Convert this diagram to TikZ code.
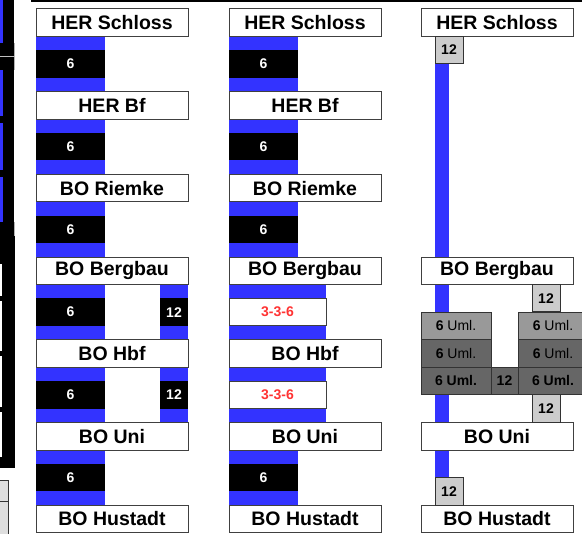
\documentclass[tikz,border=0pt]{standalone}
\usepackage{fontspec}
\setmainfont{Liberation Sans}
\usetikzlibrary{backgrounds}
\definecolor{lineblue}{HTML}{3333FF}
\definecolor{redtxt}{HTML}{FF3333}
\tikzset{
  box/.style={anchor=north west, inner sep=0pt, outer sep=0pt, minimum height=27.5bp},
  station/.style={box, draw=black!75, line width=1bp, fill=white, minimum width=152bp,
    font=\bfseries\fontsize{19.5bp}{22bp}\selectfont},
  sixbox/.style={box, fill=black, text=white, minimum width=69bp,
    font=\bfseries\fontsize{14bp}{16bp}\selectfont},
  twelvebox/.style={sixbox, minimum width=28bp},
  mixbox/.style={box, draw=black!75, line width=1bp, fill=white, text=redtxt, minimum width=97bp,
    font=\bfseries\fontsize{14bp}{16bp}\selectfont},
  lightbox/.style={box, draw=black!80, line width=1bp, fill=black!20, minimum width=28bp,
    font=\bfseries\fontsize{14bp}{16bp}\selectfont},
  umlbox/.style={box, draw=black!80, line width=1bp, minimum width=70bp,
    font=\fontsize{14bp}{16bp}\selectfont}
}
\begin{document}
\begin{tikzpicture}[x=1bp,y=-1bp]
  \useasboundingbox (0,0) rectangle (582,534);
  \clip (0,0) rectangle (582,534);

  %%%%% left edge (cut off) %%%%%
  \fill (3,0) rectangle (14,222);
  \fill[lineblue] (0,0) rectangle (3,43);
  \fill (0,43) rectangle (14,70);
  \fill[lineblue] (0,70) rectangle (3,116);
  \fill (0,116) rectangle (14,123);
  \fill[lineblue] (0,123) rectangle (3,170);
  \fill (0,170) rectangle (14,177);
  \fill[lineblue] (0,177) rectangle (3,222);
  \fill (0,222) rectangle (14,242);
  \fill[black!30] (14,43) rectangle (15,70);
  \fill[black!30] (14,222) rectangle (15,236);
  \draw[black!25, line width=1bp] (0,57) -- (15,57);
  \draw[black!25, line width=1bp] (0,236) -- (15,236);
  \fill (0,236) rectangle (15,242);
  \fill (2,242) rectangle (15,468);
  \fill (0,242) rectangle (2,264);
  \fill (0,296) rectangle (2,301);
  \fill (0,351) rectangle (2,356);
  \fill (0,407) rectangle (2,412);
  \fill (0,457) rectangle (15,468);
  \draw[black!80, fill=black!13, line width=1bp] (-5,480) rectangle (8,501);
  \draw[black!80, fill=black!13, line width=1bp] (-5,501) rectangle (8,540);

  \fill (31,0) rectangle (582,2);

  %%%%% stations %%%%%
  \foreach \lbl [count=\i from 0] in {HER Schloss,HER Bf,BO Riemke,BO Bergbau,BO Hbf,BO Uni,BO Hustadt}{
    \node[station] (a\i) at (36,{9+82.7*\i}) {\lbl};
    \node[station] (b\i) at (229,{9+82.7*\i}) {\lbl};
  }
  \node[station] (c0) at (421,9) {HER Schloss};
  \node[station] (c3) at (421,257.1) {BO Bergbau};
  \node[station] (c5) at (421,422.5) {BO Uni};
  \node[station] (c6) at (421,505.2) {BO Hustadt};

  %%%%% column 1 %%%%%
  \foreach \i in {0,...,5}
    \node[sixbox] (s\i) at (36,{50.3+82.7*\i}) {6};
  \node[twelvebox] (z3) at (160,298.4) {12};
  \node[twelvebox] (z4) at (160,381.1) {12};

  %%%%% column 2 %%%%%
  \foreach \i in {0,1,2,5}
    \node[sixbox] (r\i) at (229,{50.3+82.7*\i}) {6};
  \node[mixbox] (m3) at (229,298.4) {3-3-6};
  \node[mixbox] (m4) at (229,381.1) {3-3-6};

  %%%%% column 3 %%%%%
  \node[lightbox] (t0) at (435,36.3) {12};
  \node[lightbox] (t1) at (532,284.4) {12};
  \node[lightbox] (t2) at (532,394.8) {12};
  \node[lightbox] (t3) at (435,477.7) {12};
  \node[umlbox, fill=black!40] (u11) at (421,312) {\textbf{6} Uml.};
  \node[umlbox, fill=black!40] (u12) at (518,312) {\textbf{6} Uml.};
  \node[umlbox, fill=black!60] (u21) at (421,339.6) {\textbf{6} Uml.};
  \node[umlbox, fill=black!60] (u22) at (518,339.6) {\textbf{6} Uml.};
  \node[umlbox, fill=black!60] (u31) at (421,367.2) {\textbf{6 Uml.}};
  \node[umlbox, fill=black!60, minimum width=27bp] (u32) at (491,367.2) {\textbf{12}};
  \node[umlbox, fill=black!60] (u33) at (518,367.2) {\textbf{6 Uml.}};

  %%%%% blue lines %%%%%
  \begin{scope}[on background layer]
    \fill[lineblue] (a0.south west) rectangle ([xshift=69bp]a6.north west);
    \fill[lineblue] ([xshift=124bp]a3.south west) rectangle (a5.north east);
    \fill[lineblue] (b0.south west) rectangle ([xshift=69bp]b6.north west);
    \fill[lineblue] ([xshift=69bp]b3.south west) rectangle ([xshift=97bp]b5.north west);
    \fill[lineblue] ([xshift=14bp]c0.south west) rectangle ([xshift=28bp]c6.north west);
  \end{scope}
\end{tikzpicture}
\end{document}
